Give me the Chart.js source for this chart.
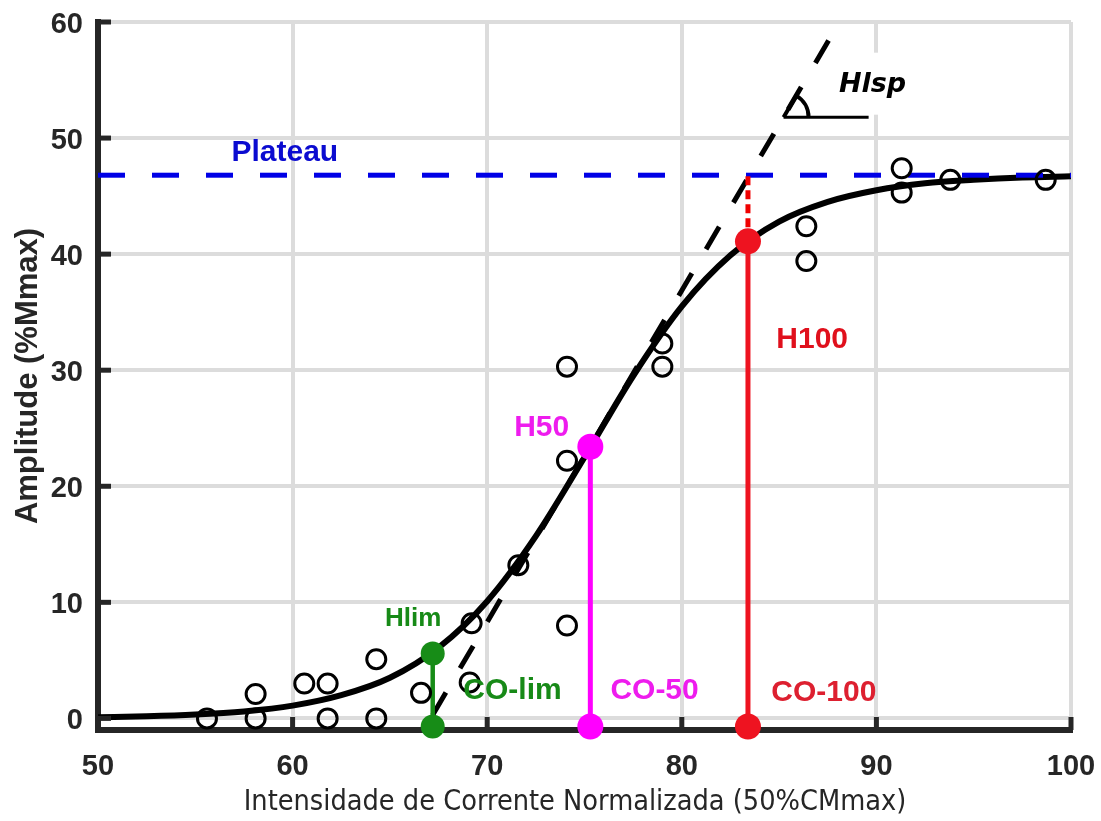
<!DOCTYPE html>
<html>
<head>
<meta charset="utf-8">
<script src="https://cdn.jsdelivr.net/npm/chart.js@4.4.1/dist/chart.umd.min.js"></script>
<style>
  html, body { margin: 0; padding: 0; background: #fff; }
  #wrap { width: 1101px; height: 821px; }
</style>
</head>
<body>
<div id="wrap"><canvas id="grafico" width="1101" height="821"></canvas></div>
<script>
// Pontos medidos (círculos abertos)
const pontosX = [55.6, 58.1, 58.1, 60.6, 61.8, 61.8, 64.3, 64.3, 66.6, 69.1, 69.2, 71.6, 74.1, 74.1, 74.1, 79.0, 79.0, 86.4, 86.4, 91.3, 91.3, 93.8, 98.7];
const pontosY = [0, 2.1, 0, 3.0, 3.0, 0, 5.1, 0, 2.2, 3.1, 8.2, 13.2, 8.0, 22.2, 30.3, 32.3, 30.3, 42.4, 39.4, 47.4, 45.3, 46.4, 46.4];

// Curva ajustada
const curvaX = [50, 52.5, 55, 57.5, 60, 62.5, 65, 67.5, 70, 72.5, 75, 77.5, 80, 82.5, 85, 87.5, 90, 92.5, 95, 97.5, 100];
const curvaY = [0.1, 0.18, 0.33, 0.6, 1.1, 2.0, 3.5, 6.1, 10.1, 15.7, 22.5, 29.5, 35.5, 39.9, 42.8, 44.5, 45.5, 46.1, 46.4, 46.6, 46.7];

// Plateau e tangente (Hlsp)
const plateauX = [50, 100];
const plateauY = [46.8, 46.8];
const tangenteX = [67.2, 88.1];
const tangenteY = [0.3, 60];

// Marcadores verticais
const limX = [67.2, 67.2];
const limY = [-0.7, 5.6];
const h50X = [75.3, 75.3];
const h50Y = [-0.7, 23.4];
const h100X = [83.4, 83.4];
const h100Y = [-0.7, 41.1];
const h100TopoY = [41.1, 46.8];

// Eixos
const ticksX = [50, 60, 70, 80, 90, 100];
const ticksY = [0, 10, 20, 30, 40, 50, 60];
const tituloX = 'Intensidade de Corrente Normalizada (50%CMmax)';

const pares = (xs, ys) => xs.map((v, i) => ({ x: v, y: ys[i] }));

// Textos de anotação
const rotulos = [
  { texto: 'Plateau', x: 59.6, y: 48.7, cor: '#0b0bd0', tamanho: 30 },
  { texto: 'Hlim', x: 66.2, y: 8.6, cor: '#178a17', tamanho: 26 },
  { texto: 'CO-lim', x: 71.3, y: 2.4, cor: '#178a17', tamanho: 30 },
  { texto: 'H50', x: 72.8, y: 25.0, cor: '#ee1cee', tamanho: 30 },
  { texto: 'CO-50', x: 78.6, y: 2.4, cor: '#ee1cee', tamanho: 30 },
  { texto: 'H100', x: 86.7, y: 32.6, cor: '#e0101c', tamanho: 30 },
  { texto: 'CO-100', x: 87.3, y: 2.2, cor: '#dd2030', tamanho: 30 }
];
const hlsp = { texto: 'Hlsp', x: 89.8, y: 54.6, baseY: 51.8, fimX: 89.6 };

const extras = {
  id: 'extras',
  beforeDatasetsDraw(chart) {
    const { ctx, scales: { x, y } } = chart;
    // fundo branco atrás do Hlsp (corta a grade)
    ctx.save();
    ctx.fillStyle = '#fff';
    const cx = x.getPixelForValue(hlsp.x), cy = y.getPixelForValue(hlsp.y);
    ctx.fillRect(cx - 38, cy - 32, 78, 62);
    ctx.restore();
  },
  afterDraw(chart) {
    const { ctx, chartArea: a, scales: { x, y } } = chart;
    ctx.save();
    // ticks para dentro
    ctx.strokeStyle = '#262626';
    ctx.lineWidth = 5;
    ticksY.forEach(v => {
      const py = y.getPixelForValue(v);
      ctx.beginPath(); ctx.moveTo(a.left, py); ctx.lineTo(a.left + 13, py); ctx.stroke();
    });
    ticksX.slice(1).forEach(v => {
      const px = x.getPixelForValue(v);
      ctx.beginPath(); ctx.moveTo(px, a.bottom); ctx.lineTo(px, a.bottom - 13); ctx.stroke();
    });

    // marcador de ângulo
    const ox = x.getPixelForValue(tangenteX[0]), oy = y.getPixelForValue(tangenteY[0]);
    const tx = x.getPixelForValue(tangenteX[1]), ty = y.getPixelForValue(tangenteY[1]);
    const ang = Math.atan2(ty - oy, tx - ox);
    const by = y.getPixelForValue(hlsp.baseY);
    const bx = ox + (by - oy) / Math.tan(ang);
    ctx.strokeStyle = '#000';
    ctx.lineWidth = 3;
    ctx.beginPath(); ctx.moveTo(bx, by); ctx.lineTo(x.getPixelForValue(hlsp.fimX), by); ctx.stroke();
    ctx.lineWidth = 4;
    ctx.beginPath();
    ctx.moveTo(bx, by);
    ctx.lineTo(bx + 25 * Math.cos(ang), by + 25 * Math.sin(ang));
    ctx.arc(bx, by, 25, ang, 0);
    ctx.stroke();

    // textos
    ctx.textAlign = 'center';
    ctx.textBaseline = 'middle';
    rotulos.forEach(r => {
      ctx.font = 'bold ' + r.tamanho + 'px "Liberation Sans", Arial, sans-serif';
      ctx.fillStyle = r.cor;
      ctx.fillText(r.texto, x.getPixelForValue(r.x), y.getPixelForValue(r.y));
    });
    ctx.font = 'italic bold 27px "DejaVu Sans", sans-serif';
    ctx.fillStyle = '#000';
    ctx.fillText(hlsp.texto, x.getPixelForValue(hlsp.x), y.getPixelForValue(hlsp.y));

    // título do eixo x
    ctx.font = '28.6px "DejaVu Sans Condensed", "DejaVu Sans", sans-serif';
    ctx.fillStyle = '#262626';
    ctx.fillText(tituloX, 575, 803);
    ctx.restore();
  }
};

const marcador = (xs, ys, cor, largura, raio) => ({
  type: 'line',
  data: pares(xs, ys),
  showLine: true,
  borderColor: cor,
  borderWidth: largura,
  pointRadius: raio,
  pointBackgroundColor: cor,
  pointBorderWidth: 0,
  clip: false,
  order: 2
});

new Chart(document.getElementById('grafico'), {
  type: 'scatter',
  data: {
    datasets: [
      {
        label: 'Medidas',
        data: pares(pontosX, pontosY),
        pointRadius: 9.5,
        pointBorderWidth: 3,
        pointBorderColor: '#000',
        pointBackgroundColor: 'rgba(0,0,0,0)',
        order: 1
      },
      {
        type: 'line',
        label: 'Ajuste',
        data: pares(curvaX, curvaY),
        showLine: true,
        borderColor: '#000',
        borderWidth: 6,
        pointRadius: 0,
        cubicInterpolationMode: 'monotone',
        order: 6
      },
      {
        type: 'line',
        label: 'Tangente',
        data: pares(tangenteX, tangenteY),
        showLine: true,
        borderColor: '#000',
        borderWidth: 5,
        borderDash: [26, 28],
        pointRadius: 0,
        order: 7
      },
      {
        type: 'line',
        label: 'Plateau',
        data: pares(plateauX, plateauY),
        showLine: true,
        borderColor: '#0000e6',
        borderWidth: 5,
        borderDash: [27, 27],
        pointRadius: 0,
        order: 5
      },
      {
        type: 'line',
        label: 'H100 topo',
        data: pares([h100X[0], h100X[0]], h100TopoY),
        showLine: true,
        borderColor: '#f00000',
        borderWidth: 5,
        borderDash: [9, 5],
        pointRadius: 0,
        order: 3
      },
      marcador(limX, limY, '#178c17', 4.5, 12),
      marcador(h50X, h50Y, '#ff00ff', 5, 13),
      marcador(h100X, h100Y, '#ee1320', 5, 13)
    ]
  },
  options: {
    responsive: false,
    animation: false,
    layout: { autoPadding: false, padding: { top: 22, right: 30, left: 0, bottom: 0 } },
    plugins: { legend: { display: false }, tooltip: { enabled: false } },
    scales: {
      x: {
        type: 'linear',
        min: 50,
        max: 100,
        afterBuildTicks: s => { s.ticks = ticksX.map(v => ({ value: v })); },
        afterFit: s => { s.height = 91; s.paddingLeft = 0; s.paddingRight = 0; },
        grid: { color: '#dcdcdc', lineWidth: 4, drawTicks: false },
        border: { color: '#262626', width: 6 },
        ticks: {
          font: { family: '"Liberation Sans", Arial', weight: 'bold', size: 29 },
          color: '#262626',
          padding: 20,
          maxRotation: 0
        }
      },
      y: {
        type: 'linear',
        min: -1,
        max: 60,
        afterBuildTicks: s => { s.ticks = ticksY.map(v => ({ value: v })); },
        afterFit: s => { s.width = 98; s.paddingTop = 0; s.paddingBottom = 0; },
        grid: { color: '#dcdcdc', lineWidth: 4, drawTicks: false },
        border: { color: '#262626', width: 6 },
        ticks: {
          font: { family: '"Liberation Sans", Arial', weight: 'bold', size: 29 },
          color: '#262626',
          padding: 15,
          labelOffset: 3
        },
        title: {
          display: true,
          text: 'Amplitude (%Mmax)',
          font: { family: '"Liberation Sans", Arial', weight: 'bold', size: 31 },
          color: '#262626',
          padding: { top: 10, bottom: 0 }
        }
      }
    }
  },
  plugins: [extras]
});
</script>
</body>
</html>
